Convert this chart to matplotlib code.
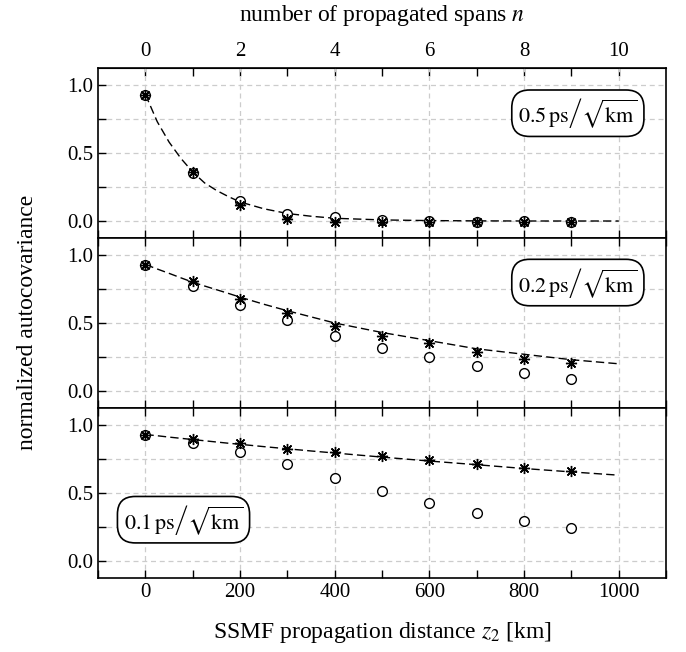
import matplotlib.pyplot as plt
import numpy as np
from matplotlib.ticker import FixedLocator, MultipleLocator

plt.rcParams["font.family"] = ["Liberation Serif", "DejaVu Serif"]
plt.rcParams["mathtext.fontset"] = "stix"
plt.rc("xtick", labelsize=15, direction="in")
plt.rc("ytick", labelsize=15, direction="in")
plt.rc("axes", labelsize=17)

# measured points, z in km
z = [0, 100, 200, 300, 400, 500, 600, 700, 800, 900]

circ_05 = [0.93, 0.355, 0.147, 0.054, 0.032, 0.005, 0.0, -0.005, 0.0, -0.005]
star_05 = [0.93, 0.36, 0.115, 0.017, -0.007, -0.005, -0.008, -0.01, -0.005, -0.01]

circ_02 = [0.93, 0.775, 0.636, 0.523, 0.408, 0.318, 0.25, 0.186, 0.132, 0.086]
star_02 = [0.93, 0.807, 0.677, 0.57, 0.48, 0.408, 0.355, 0.29, 0.237, 0.203]

circ_01 = [0.93, 0.866, 0.80, 0.711, 0.611, 0.516, 0.43, 0.355, 0.291, 0.242]
star_01 = [0.93, 0.897, 0.866, 0.824, 0.80, 0.77, 0.743, 0.714, 0.685, 0.66]

# dashed fit curves
z_fit = [0, 25, 50, 75, 100, 125, 150, 175, 200, 250, 300, 350, 400, 500,
         600, 700, 800, 900, 1000]
fit_05 = [0.93, 0.73, 0.58, 0.46, 0.36, 0.28, 0.225, 0.18, 0.14, 0.09, 0.055,
          0.035, 0.02, 0.008, 0.003, 0.001, 0.0, 0.0, 0.0]
fit_02 = [0.93, 0.897, 0.865, 0.832, 0.80, 0.772, 0.745, 0.718, 0.69, 0.638,
          0.59, 0.545, 0.50, 0.43, 0.37, 0.31, 0.27, 0.23, 0.20]
fit_01 = [0.93, 0.921, 0.911, 0.902, 0.893, 0.884, 0.875, 0.866, 0.858, 0.841,
          0.825, 0.809, 0.794, 0.764, 0.735, 0.708, 0.68, 0.655, 0.631]

spans = [0, 2, 4, 6, 8, 10]

labels = [r"$0.5\,\mathrm{ps}\left/\sqrt{\mathrm{km}}\right.$",
          r"$0.2\,\mathrm{ps}\left/\sqrt{\mathrm{km}}\right.$",
          r"$0.1\,\mathrm{ps}\left/\sqrt{\mathrm{km}}\right.$"]
box_pos = [(0.95, 0.734, "right"), (0.95, 0.738, "right"), (0.045, 0.343, "left")]

circs = [circ_05, circ_02, circ_01]
stars = [star_05, star_02, star_01]
fits = [fit_05, fit_02, fit_01]

fig, axes = plt.subplots(3, 1, sharex=True, figsize=(6.86, 6.52), dpi=100)
fig.subplots_adjust(left=0.143, right=0.971, top=0.8957, bottom=0.1135,
                    hspace=0)

for ax, c, s, f, lab, (bx, by, ha) in zip(axes, circs, stars, fits, labels,
                                           box_pos):
    ax.plot(z_fit, f, ls=(0, (6, 3)), color="k", lw=1.0, zorder=2)
    ax.plot(z, c, ls="none", marker="o", ms=7, mfc="white", mec="k",
            mew=1.0, zorder=4)
    ax.plot(z, s, ls="none", marker=(8, 2, 0), ms=8, mew=1.0, color="k",
            zorder=5)
    ax.set_xlim(-100, 1100)
    ax.set_ylim(-0.125, 1.125)
    ax.xaxis.set_major_locator(MultipleLocator(200))
    ax.xaxis.set_minor_locator(MultipleLocator(100))
    ax.yaxis.set_major_locator(MultipleLocator(0.5))
    ax.yaxis.set_minor_locator(MultipleLocator(0.25))
    ax.tick_params(which="both", top=True, right=False, length=6, width=1)
    ax.grid(True, which="major", axis="x", ls=(0, (4, 3)), color="#cccccc",
            lw=0.9)
    ax.grid(True, which="both", axis="y", ls=(0, (4, 3)), color="#cccccc",
            lw=0.9)
    for sp in ax.spines.values():
        sp.set_linewidth(1.2)
    ax.text(bx, by, lab, transform=ax.transAxes, ha=ha, va="center",
            fontsize=16,
            bbox=dict(boxstyle="round,pad=0.28,rounding_size=0.8", fc="white",
                      ec="k", lw=1.2))

top = axes[0].secondary_xaxis("top", functions=(lambda x: x / 100,
                                                lambda n: n * 100))
top.xaxis.set_major_locator(FixedLocator(spans))
top.xaxis.set_minor_locator(FixedLocator([1, 3, 5, 7, 9]))
top.tick_params(which="both", direction="in", length=6, width=1, pad=5)
top.set_xlabel(r"number of propagated spans $n$", labelpad=15)
axes[0].tick_params(which="both", top=False)

axes[2].set_xlabel(r"SSMF propagation distance $z_2$ [km]", labelpad=13)
fig.text(0.04, 0.505, "normalized autocovariance", rotation=90,
         ha="center", va="center", fontsize=17)

plt.savefig("out.png")
